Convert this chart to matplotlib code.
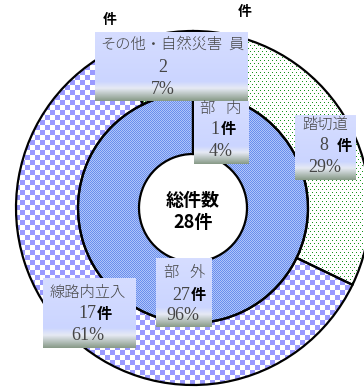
import numpy as np
import matplotlib
matplotlib.use('Agg')
import matplotlib.pyplot as plt

W, H = 364, 390

outer_labels = ['員', '踏切道', '線路内立入', 'その他・自然災害']
outer_values = [1, 8, 17, 2]
outer_pct = ['', '29%', '61%', '7%']
inner_labels = ['部内', '部外']
inner_values = [1, 27]
inner_pct = ['4%', '96%']
total = sum(inner_values)

JP = 'Noto Sans CJK JP'
SERIF = 'Liberation Serif'
TXT = '#454545'

fig = plt.figure(figsize=(W / 100, H / 100), dpi=100)
ax = fig.add_axes([0, 0, 1, 1])
cx, cy = 193, H - 208
R_out, R_mid, R_in = 177, 115, 54

outer_w, _ = ax.pie(outer_values, radius=R_out, center=(cx, cy), startangle=90,
                    counterclock=False,
                    wedgeprops=dict(width=R_out - R_mid, edgecolor='black', linewidth=1.6))
inner_w, _ = ax.pie(inner_values, radius=R_mid, center=(cx, cy), startangle=90,
                    counterclock=False,
                    wedgeprops=dict(width=R_mid - R_in, edgecolor='black', linewidth=1.6))


def rgb(h):
    return np.array([int(h[i:i + 2], 16) / 255 for i in (1, 3, 5)])


yy, xx = np.mgrid[0:H, 0:W]


def two(mask, c1, c2):
    img = np.empty((H, W, 3))
    img[:] = rgb(c2)
    img[mask] = rgb(c1)
    return img


checker = two(((xx // 5) + (yy // 5)) % 2 == 0, '#9a9aff', '#ffffff')
fine = two((xx + yy) % 2 == 0, '#6a8eec', '#b0c4fa')
dots = two(((yy % 3) == 0) & (((xx + (yy // 3 % 2) * 2) % 4) == 0), '#1a961f', '#ffffff')
dense = two(((xx + yy) % 2) == 0, '#33aa33', '#ffffff')

outer_pat = [dots, dots, checker, dense]
inner_pat = [fine, fine]

for wedges, pats in ((outer_w, outer_pat), (inner_w, inner_pat)):
    for w, p in zip(wedges, pats):
        im = ax.imshow(p, extent=(0, W, 0, H), origin='upper', interpolation='nearest', zorder=1)
        im.set_clip_path(w)
        w.set_facecolor('none')
        w.set_zorder(3)

# gradient label boxes
stops = [0.0, 0.72, 0.82, 1.0]
cols = np.array([rgb('#d6ddff'), rgb('#cbd5ff'), rgb('#e6eaf4'), rgb('#8a9c8a')])
tt = np.linspace(0, 1, 64)
grad = np.stack([np.interp(tt, stops, cols[:, k]) for k in range(3)], axis=-1)[:, None, :]


def box(x0, y0, x1, y1, z=4):
    ax.imshow(grad, extent=(x0, x1, H - y1, H - y0), origin='upper',
              aspect='auto', interpolation='bilinear', zorder=z)


def t_(x, y, s, fam=JP, size=11, color=TXT, weight='light', ha='center', z=6):
    ax.text(x, H - y, s, ha=ha, va='center', fontsize=size, family=fam,
            color=color, weight=weight, zorder=z)


def spaced(x, y, s, gap=26, z=6):
    t_(x - gap / 2, y, s[0], z=z)
    t_(x + gap / 2, y, s[1], z=z)


def num_ken(x, y, n, z=6):
    t_(x, y, n, fam=SERIF, size=13, weight='normal', ha='right', z=z)
    t_(x + 1, y, '件', size=11, color='black', weight='bold', ha='left', z=z)


# 員 box (behind)
box(180, 32, 248, 101, z=4)
t_(236, 45, outer_labels[0], z=5)
# その他 box
box(95, 32, 228, 101, z=5)
t_(161, 45, outer_labels[3], size=11, z=6)
t_(163, 68, str(outer_values[3]), fam=SERIF, size=13, weight='normal', z=6)
t_(163, 90, outer_pct[3], fam=SERIF, size=13, weight='normal', z=6)
# 部内 box
box(194, 101, 249, 164, z=4)
spaced(220, 109, inner_labels[0])
num_ken(220, 129, str(inner_values[0]))
t_(221, 151, inner_pct[0], fam=SERIF, size=13, weight='normal')
# 踏切道 box
box(295, 115, 356, 180)
t_(325, 125, outer_labels[1])
t_(328, 146, str(outer_values[1]), fam=SERIF, size=13, weight='normal', ha='right')
t_(337, 146, '件', color='black', weight='bold', ha='left')
t_(325, 168, outer_pct[1], fam=SERIF, size=13, weight='normal')
# 部外 box
box(156, 258, 212, 327)
spaced(184, 273, inner_labels[1])
num_ken(190, 295, str(inner_values[1]))
t_(183, 316, inner_pct[1], fam=SERIF, size=13, weight='normal')
# 線路内立入 box
box(43, 278, 136, 348)
t_(88, 293, outer_labels[2])
num_ken(96, 314, str(outer_values[2]))
t_(88, 335, outer_pct[2], fam=SERIF, size=13, weight='normal')

# stray '件' glyphs at the top
t_(110, 20, '件', color='black', weight='bold', size=10)
t_(245, 12, '件', color='black', weight='bold', size=10)

# centre
t_(cx, 200, '総件数', color='black', weight='bold', size=13)
t_(cx, 222, f'{total}件', color='black', weight='bold', size=13)

ax.set_xlim(0, W)
ax.set_ylim(0, H)
ax.set_aspect('auto')
ax.axis('off')
fig.savefig('out.png', dpi=100)
